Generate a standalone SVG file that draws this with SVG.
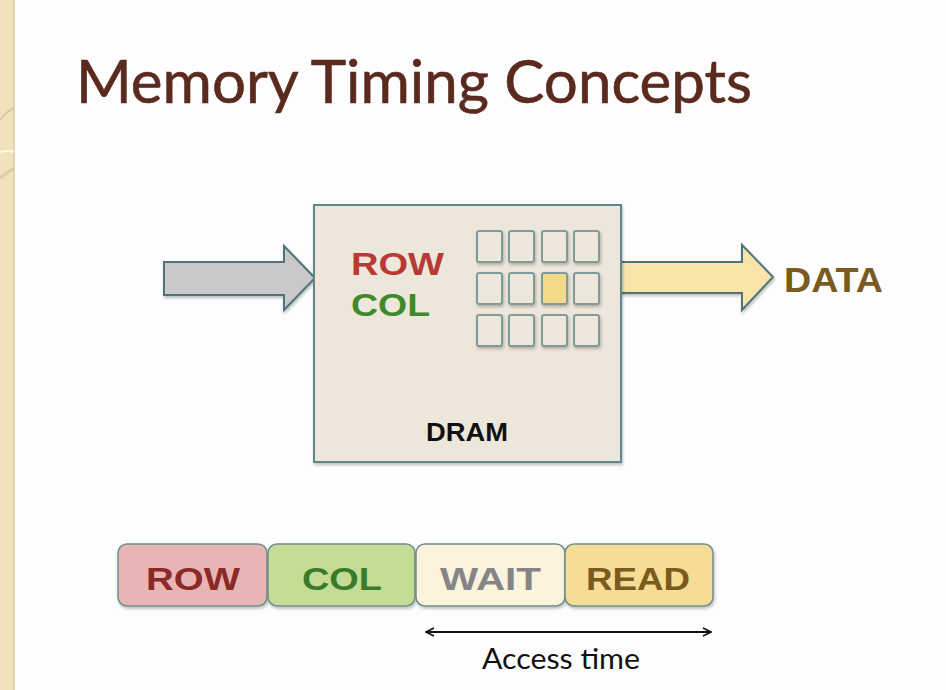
<svg xmlns="http://www.w3.org/2000/svg" width="946" height="690" viewBox="0 0 946 690">
<defs>
<filter id="sh" x="-10%" y="-10%" width="130%" height="130%"><feDropShadow dx="1" dy="2" stdDeviation="1.5" flood-color="#000" flood-opacity="0.25"/></filter>
<marker id="ah" viewBox="0 0 10 10" refX="9" refY="5" markerWidth="10" markerHeight="10" markerUnits="userSpaceOnUse" orient="auto-start-reverse"><path d="M1,1 L9,5 L1,9" fill="none" stroke="#111" stroke-width="1.6"/></marker>
</defs>
<style>
.t{font-family:"Lato","Open Sans","DejaVu Sans",sans-serif}
.b{font-family:"Liberation Sans","Arial",sans-serif;font-weight:bold}
.cell{fill:#ede6da;stroke:#7d9c9a;stroke-width:2}
.bar{stroke:#6f8f8f;stroke-width:1.5}
</style>
<rect width="946" height="690" fill="#fdfdfd"/>
<g id="stripe">
<rect x="0" y="0" width="14" height="690" fill="#efe2bd"/>
<line x1="14" y1="0" x2="14" y2="690" stroke="#d9c9a0" stroke-width="1.5"/>
<path d="M0,120 Q8,110 14,108" fill="none" stroke="#d8c8a4" stroke-width="2"/>
<path d="M0,152 Q8,150 14,152" fill="none" stroke="#fff8e8" stroke-width="2"/>
<path d="M0,178 Q8,172 14,168" fill="none" stroke="#dccca8" stroke-width="3"/>
</g>
<text class="t" x="76" y="103" font-size="60" fill="#5a2a1e" textLength="676" lengthAdjust="spacingAndGlyphs" style="stroke:#5a2a1e;stroke-width:0.6">Memory Timing Concepts</text>
<g id="connectors">
<path d="M164,262 L284,262 L284,246 L315,278 L284,310 L284,295 L164,295 Z" fill="#c9c9c9" stroke="#4f7379" stroke-width="2" filter="url(#sh)"/>
<path d="M621,262 L742,262 L742,245 L773,277 L742,310 L742,293 L621,293 Z" fill="#f8e4a8" stroke="#4f7379" stroke-width="2" filter="url(#sh)"/>
<line x1="426" y1="632" x2="711" y2="632" stroke="#111" stroke-width="2" marker-start="url(#ah)" marker-end="url(#ah)"/>
</g>
<g id="dram">
<rect x="314" y="205" width="307" height="257" fill="#ede6da" stroke="#5e878d" stroke-width="2" filter="url(#sh)"/>
<text class="b" x="351" y="275" font-size="32" fill="#b83a35" textLength="93" lengthAdjust="spacingAndGlyphs">ROW</text>
<text class="b" x="351" y="316" font-size="32" fill="#3e8a2a" textLength="79" lengthAdjust="spacingAndGlyphs">COL</text>
<text class="b" x="426" y="441" font-size="25" fill="#111" textLength="82" lengthAdjust="spacingAndGlyphs">DRAM</text>
<g id="cells" filter="url(#sh)">
<rect class="cell" x="477" y="231" width="25" height="31" rx="2"/>
<rect class="cell" x="509" y="231" width="25" height="31" rx="2"/>
<rect class="cell" x="542" y="231" width="25" height="31" rx="2"/>
<rect class="cell" x="574" y="231" width="25" height="31" rx="2"/>
<rect class="cell" x="477" y="273" width="25" height="31" rx="2"/>
<rect class="cell" x="509" y="273" width="25" height="31" rx="2"/>
<rect class="cell" x="542" y="273" width="25" height="31" rx="2" style="fill:#f5d98a"/>
<rect class="cell" x="574" y="273" width="25" height="31" rx="2"/>
<rect class="cell" x="477" y="315" width="25" height="31" rx="2"/>
<rect class="cell" x="509" y="315" width="25" height="31" rx="2"/>
<rect class="cell" x="542" y="315" width="25" height="31" rx="2"/>
<rect class="cell" x="574" y="315" width="25" height="31" rx="2"/>
</g>
</g>
<g id="data"><text class="b" x="784" y="292" font-size="35" fill="#7a5a1e" textLength="99" lengthAdjust="spacingAndGlyphs">DATA</text></g>
<g id="bar-row"><rect class="bar" x="118" y="544" width="149" height="62" rx="9" fill="#e8b4b4" filter="url(#sh)"/><text class="b" x="146" y="590" font-size="32" fill="#8a2a26" textLength="94" lengthAdjust="spacingAndGlyphs">ROW</text></g>
<g id="bar-col"><rect class="bar" x="268" y="544" width="147" height="62" rx="9" fill="#c5dc96" filter="url(#sh)"/><text class="b" x="302" y="590" font-size="32" fill="#3a7a28" textLength="80" lengthAdjust="spacingAndGlyphs">COL</text></g>
<g id="bar-wait"><rect class="bar" x="416" y="544" width="149" height="62" rx="9" fill="#fbf3dc" filter="url(#sh)"/><text class="b" x="440" y="590" font-size="32" fill="#858585" textLength="101" lengthAdjust="spacingAndGlyphs">WAIT</text></g>
<g id="bar-read"><rect class="bar" x="565" y="544" width="148" height="62" rx="9" fill="#f6dc94" filter="url(#sh)"/><text class="b" x="586" y="590" font-size="32" fill="#7a5a1e" textLength="104" lengthAdjust="spacingAndGlyphs">READ</text></g>
<g id="access"><text class="t" x="482" y="669" font-size="28" fill="#111" textLength="158" lengthAdjust="spacingAndGlyphs">Access time</text></g>
</svg>
